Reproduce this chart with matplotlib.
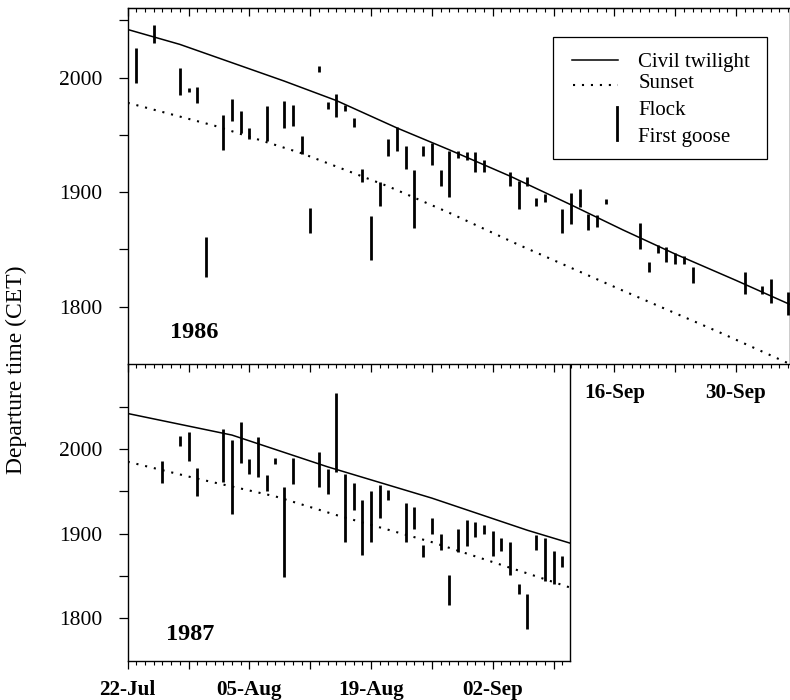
import numpy as np
import matplotlib
matplotlib.use("Agg")
import matplotlib.pyplot as plt
from matplotlib.ticker import MultipleLocator, FixedLocator, FuncFormatter
from matplotlib.patches import Rectangle

plt.rcParams['font.family'] = ['Liberation Serif', 'DejaVu Serif']

# x = days after 22 July, y = time of day in decimal hours (CET)
tick_days = [0, 14, 28, 42, 56, 70]
tick_labels = ['22-Jul', '05-Aug', '19-Aug', '02-Sep', '16-Sep', '30-Sep']

# 1986: departure bars (day, upper end, lower end)
day86 = [1, 3, 6, 7, 8, 9, 11, 12, 13, 14, 16, 18, 19, 20, 21, 22, 23, 24, 25, 26,
         27, 28, 29, 30, 31, 32, 33, 34, 35, 36, 37, 38, 39, 40, 41, 44, 45, 46, 47, 48,
         50, 51, 52, 53, 54, 55, 59, 60, 61, 62, 63, 64, 65, 71, 73, 74, 76]
top86 = [20.26, 20.46, 20.08, 19.91, 19.92, 18.61, 19.67, 19.81, 19.71, 19.56,
         19.75, 19.80, 19.76, 19.49, 18.86, 20.10, 19.79, 19.86, 19.76, 19.65,
         19.20, 18.79, 19.09, 19.46, 19.57, 19.40, 19.19, 19.40, 19.43, 19.19,
         19.36, 19.36, 19.35, 19.35, 19.28, 19.18, 19.10, 19.13, 18.95, 18.98,
         18.85, 18.99, 19.03, 18.81, 18.80, 18.94, 18.73, 18.39, 18.54, 18.52,
         18.47, 18.44, 18.35, 18.30, 18.18, 18.24, 18.13]
bot86 = [19.95, 20.30, 19.85, 19.87, 19.78, 18.26, 19.37, 19.62, 19.52, 19.46,
         19.45, 19.56, 19.58, 19.33, 18.64, 20.05, 19.73, 19.66, 19.71, 19.57,
         19.09, 18.41, 18.88, 19.32, 19.36, 19.20, 18.69, 19.32, 19.24, 19.05,
         18.96, 19.30, 19.28, 19.18, 19.18, 19.05, 18.85, 19.05, 18.88, 18.91,
         18.64, 18.72, 18.87, 18.67, 18.70, 18.90, 18.50, 18.30, 18.47, 18.39,
         18.37, 18.37, 18.21, 18.11, 18.11, 18.03, 17.93]

civil86_day = [0, 6, 12, 18, 24, 31, 37, 44, 51, 57, 63, 70, 76.2]
civil86 = [20.42, 20.29, 20.13, 19.97, 19.80, 19.56, 19.37, 19.14, 18.89, 18.67, 18.46, 18.23, 18.02]
sunset86_day = [0, 10, 20, 30, 37, 45, 57, 68, 76.2]
sunset86 = [19.78, 19.58, 19.34, 19.05, 18.82, 18.54, 18.14, 17.78, 17.50]

# 1987
day87 = [4, 6, 7, 8, 11, 12, 13, 14, 15, 16, 17, 18, 19, 22, 23, 24, 25, 26, 27, 28,
         29, 30, 32, 33, 34, 35, 36, 37, 38, 39, 40, 41, 42, 43, 44, 45, 46, 47, 48, 49, 50]
top87 = [19.86, 20.15, 20.20, 19.77, 20.24, 20.11, 20.32, 19.88, 20.14, 19.69,
         19.90, 19.55, 19.90, 19.96, 19.76, 20.66, 19.71, 19.60, 19.40, 19.50,
         19.57, 19.52, 19.36, 19.32, 18.87, 19.19, 19.00, 18.51, 19.06, 19.16,
         19.14, 19.10, 19.03, 18.95, 18.90, 18.41, 18.29, 18.99, 18.95, 18.79, 18.73]
bot87 = [19.60, 20.04, 19.86, 19.44, 19.61, 19.23, 19.84, 19.70, 19.67, 19.50,
         19.82, 18.49, 19.59, 19.55, 19.47, 19.73, 18.90, 19.28, 18.75, 18.90,
         19.19, 19.40, 18.90, 19.05, 18.72, 19.00, 18.81, 18.16, 18.78, 18.86,
         18.96, 19.00, 18.73, 18.79, 18.51, 18.29, 17.87, 18.81, 18.44, 18.40, 18.60]

civil87_day = [0, 12, 23, 35, 46, 51]
civil87 = [20.42, 20.165, 19.79, 19.42, 19.04, 18.885]
sunset87_day = [0, 8, 17, 24, 35, 46, 51]
sunset87 = [19.85, 19.65, 19.44, 19.22, 18.90, 18.53, 18.36]

fig = plt.figure(figsize=(7.9, 7.0), dpi=100)
ax2 = fig.add_axes([127.7 / 790, 39 / 700, 442.3 / 790, 297 / 700])
ax1 = fig.add_axes([127.7 / 790, 336 / 700, 661.8 / 790, 355.7 / 700])

dotted = (0, (1, 3.3))
hhmm = FuncFormatter(lambda v, p: "%d00" % round(v))


def style(ax, xmax, ylim, labelled):
    ax.set_xlim(0, xmax)
    ax.set_ylim(*ylim)
    major = np.arange(0, xmax, 7)
    lab = dict(zip(tick_days, tick_labels))
    ax.set_xticks(major, [lab.get(d, '') if d in labelled else '' for d in major],
                  fontweight='bold', fontsize=15.2)
    ax.xaxis.set_minor_locator(MultipleLocator(1))
    ax.tick_params(axis='x', which='major', direction='out', length=5.5, width=0.9, pad=8)
    ax.tick_params(axis='x', which='minor', direction='out', length=3, width=0.8)
    ax.yaxis.set_major_locator(FixedLocator([18, 19, 20]))
    ax.yaxis.set_minor_locator(FixedLocator([18.5, 19.5, 20.5]))
    ax.yaxis.set_major_formatter(hhmm)
    ax.tick_params(axis='y', which='both', direction='out', length=6.5, width=0.9,
                   pad=11.5, labelsize=15.5)
    for s in ax.spines.values():
        s.set_linewidth(1.0)


# 1986
ax1.vlines(day86, bot86, top86, color='black', lw=2.0)
ax1.plot(civil86_day, civil86, color='black', lw=1.1)
ax1.plot(sunset86_day, sunset86, color='black', lw=1.5, ls=dotted)
style(ax1, 661.8 / 8.69, (17.5, 20.605), [56, 70])
sec = ax1.secondary_xaxis('top')
sec.set_xticks(np.arange(0, 77, 7), [])
sec.xaxis.set_minor_locator(MultipleLocator(1))
sec.tick_params(axis='x', which='major', direction='in', length=5.5, width=0.9)
sec.tick_params(axis='x', which='minor', direction='in', length=3, width=0.8)
ax1.text(0.100, 0.073, '1986', transform=ax1.transAxes, ha='center', va='baseline',
         fontsize=17.5, fontweight='bold')

# legend box drawn by hand, as in the figure
ax1.add_patch(Rectangle((0.642, 0.576), 0.324, 0.343, transform=ax1.transAxes,
                        fill=False, lw=0.9, color='black'))
ax1.plot([0.671, 0.741], [0.8547, 0.8547], transform=ax1.transAxes, color='black', lw=1.1)
ax1.plot([0.673, 0.741], [0.784, 0.784], transform=ax1.transAxes, color='black', lw=1.5,
         ls=dotted)
ax1.plot([0.7393, 0.7393], [0.630, 0.723], transform=ax1.transAxes, color='black', lw=2.0)
for txt, fy in zip(['Civil twilight', 'Sunset', 'Flock', 'First goose'],
                   [0.836, 0.775, 0.700, 0.625]):
    ax1.text(0.7716, fy, txt, transform=ax1.transAxes, ha='left', va='baseline', fontsize=15)

# 1987
ax2.patch.set_visible(False)
ax2.vlines(day87, bot87, top87, color='black', lw=2.0)
ax2.plot(civil87_day, civil87, color='black', lw=1.1)
ax2.plot(sunset87_day, sunset87, color='black', lw=1.5, ls=dotted)
style(ax2, 442.3 / 8.69, (17.495, 21.005), [0, 14, 28, 42])
ax2.spines['top'].set_visible(False)
ax2.text(0.141, 0.071, '1987', transform=ax2.transAxes, ha='center', va='baseline',
         fontsize=17.5, fontweight='bold')

fig.text(16.5 / 790, 1 - 370 / 700, 'Departure time (CET)', rotation=90,
         ha='center', va='center', fontsize=17)

fig.savefig('out.png', dpi=100)
